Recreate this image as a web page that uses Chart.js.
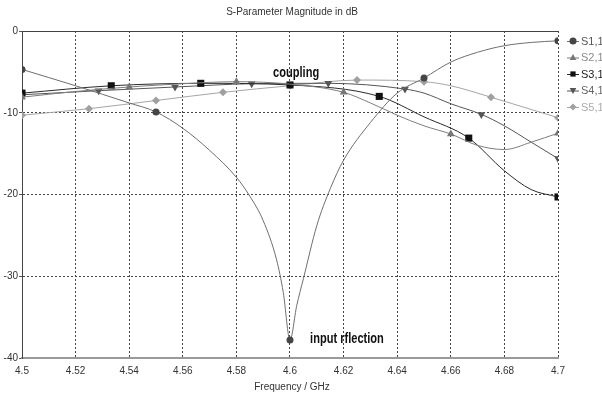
<!DOCTYPE html>
<html>
<head>
<meta charset="utf-8">
<script src="https://cdn.jsdelivr.net/npm/chart.js@4/dist/chart.umd.min.js"></script>
<style>
  html, body { margin: 0; padding: 0; background: #ffffff; }
  #wrap { width: 602px; height: 400px; }
</style>
</head>
<body>
<div id="wrap"><canvas id="c" width="602" height="400"></canvas></div>
<script>
// Frequency samples (GHz) and magnitudes (dB) for each S-parameter
const freqS11 = [4.5, 4.52, 4.54, 4.55, 4.56, 4.57, 4.58, 4.585, 4.59, 4.595, 4.5975, 4.6, 4.6025, 4.605, 4.61, 4.615, 4.62, 4.63, 4.64, 4.65, 4.66, 4.67, 4.68, 4.69, 4.7];
const magS11  = [-4.7, -6.7, -8.8, -9.9, -11.9, -14.6, -17.9, -20.2, -23.2, -28.0, -32.0, -37.8, -33.6, -30.3, -23.8, -19.3, -15.8, -11.2, -7.6, -5.75, -3.8, -2.6, -1.8, -1.4, -1.2];

const freqS21 = [4.5, 4.52, 4.54, 4.56, 4.58, 4.6, 4.62, 4.63, 4.64, 4.65, 4.66, 4.67, 4.68, 4.69, 4.7];
const magS21  = [-8.1, -7.4, -6.85, -6.45, -6.2, -6.5, -7.5, -8.8, -10.3, -11.6, -12.6, -14.0, -14.5, -13.6, -12.5];

const freqS31 = [4.5, 4.5333, 4.5667, 4.6, 4.6333, 4.65, 4.6667, 4.68, 4.69, 4.7];
const magS31  = [-7.6, -6.7, -6.4, -6.6, -8.0, -10.5, -13.1, -17.1, -19.4, -20.3];

const freqS41 = [4.5, 4.5286, 4.5571, 4.5857, 4.6143, 4.6429, 4.65, 4.66, 4.6714, 4.68, 4.69, 4.7];
const magS41  = [-7.8, -7.3, -6.85, -6.45, -6.4, -7.1, -7.6, -8.9, -10.2, -11.6, -13.6, -15.6];

const freqS51 = [4.5, 4.525, 4.55, 4.575, 4.6, 4.625, 4.65, 4.66, 4.675, 4.69, 4.7];
const magS51  = [-10.3, -9.5, -8.5, -7.5, -6.7, -6.0, -6.2, -6.7, -8.1, -9.6, -10.6];

// Axis ticks
const freqMin = 4.5, freqMax = 4.7, freqStep = 0.02;
const dbMin = -40, dbMax = 0, dbStep = 10;

// Text labels
const titleText = 'S-Parameter Magnitude in dB';
const xTitleText = 'Frequency / GHz';
const notes = [
  { text: 'coupling', freq: 4.5937, db: -5.1 },
  { text: 'input rflection', freq: 4.6075, db: -37.7 }
];

const series = [
  { label: 'S1,1', freq: freqS11, mag: magS11, line: '#6e6e6e', mark: '#454545', text: '#555555', style: 'circle', rot: 0, r: 3.5, markers: 5 },
  { label: 'S2,1', freq: freqS21, mag: magS21, line: '#7d7d7d', mark: '#777777', text: '#8a8a8a', style: 'triangle', rot: 0, r: 4.5, markers: 6 },
  { label: 'S3,1', freq: freqS31, mag: magS31, line: '#2a2a2a', mark: '#111111', text: '#222222', style: 'rect', rot: 0, r: 5, markers: 7 },
  { label: 'S4,1', freq: freqS41, mag: magS41, line: '#555555', mark: '#555555', text: '#666666', style: 'triangle', rot: 180, r: 4.5, markers: 8 },
  { label: 'S5,1', freq: freqS51, mag: magS51, line: '#a5a5a5', mark: '#a0a0a0', text: '#aaaaaa', style: 'rectRot', rot: 0, r: 4, markers: 9 }
];

function isMarker(s, f) {
  const step = (freqMax - freqMin) / (s.markers - 1);
  const k = Math.round((f - freqMin) / step);
  return Math.abs(freqMin + k * step - f) < 0.0006;
}

const datasets = series.map(s => ({
  label: s.label,
  data: s.freq.map((f, i) => ({ x: f, y: s.mag[i] })),
  borderColor: s.line,
  backgroundColor: s.mark,
  borderWidth: 1,
  cubicInterpolationMode: 'monotone',
  pointStyle: s.style,
  rotation: s.rot,
  pointRotation: s.rot,
  pointBorderColor: s.mark,
  pointBackgroundColor: s.mark,
  pointBorderWidth: 0,
  pointRadius: ctx => isMarker(s, ctx.raw ? ctx.raw.x : 0) ? s.r : 0,
  pointHoverRadius: 0
}));

const baseFont = "'Liberation Sans', Arial, sans-serif";
const noteFont = "bold 14px 'Liberation Sans', Arial, sans-serif";

function drawMarker(ctx, style, rot, r, x, y, color) {
  ctx.save();
  ctx.fillStyle = color;
  ctx.translate(x, y);
  ctx.rotate(rot * Math.PI / 180);
  ctx.beginPath();
  if (style === 'circle') {
    ctx.arc(0, 0, r, 0, Math.PI * 2);
  } else if (style === 'triangle') {
    ctx.moveTo(0, -r);
    ctx.lineTo(r * 0.95, r * 0.7);
    ctx.lineTo(-r * 0.95, r * 0.7);
    ctx.closePath();
  } else if (style === 'rect') {
    ctx.rect(-r * 0.75, -r * 0.75, r * 1.5, r * 1.5);
  } else {
    ctx.moveTo(0, -r); ctx.lineTo(r, 0); ctx.lineTo(0, r); ctx.lineTo(-r, 0); ctx.closePath();
  }
  ctx.fill();
  ctx.restore();
}

// Frame, title, axis caption, annotations and legend
const decorations = {
  id: 'decorations',
  beforeDatasetsDraw(chart) {
    const { ctx, chartArea: a } = chart;
    ctx.save();
    ctx.strokeStyle = '#444444';
    ctx.lineWidth = 1;
    ctx.beginPath();
    ctx.moveTo(a.left, a.top + 0.5);
    ctx.lineTo(a.right, a.top + 0.5);
    ctx.stroke();
    ctx.restore();
  },
  afterDraw(chart) {
    const { ctx, scales } = chart;
    ctx.save();
    ctx.textBaseline = 'middle';

    ctx.fillStyle = '#333333';
    ctx.font = '10px ' + baseFont;
    ctx.textAlign = 'center';
    ctx.fillText(titleText, 292, 12);
    ctx.fillText(xTitleText, 292, 387);

    // condensed bold annotation text
    ctx.font = noteFont;
    ctx.fillStyle = '#111111';
    ctx.textAlign = 'left';
    notes.forEach(n => {
      const px = scales.x.getPixelForValue(n.freq);
      const py = scales.y.getPixelForValue(n.db);
      ctx.save();
      ctx.translate(px, py);
      ctx.scale(0.79, 1.05);
      ctx.fillText(n.text, 0, 0);
      ctx.restore();
    });

    ctx.font = '11px ' + baseFont;
    series.forEach((s, i) => {
      const y = 41 + i * 16.5;
      ctx.strokeStyle = s.line;
      ctx.lineWidth = 1;
      ctx.beginPath();
      ctx.moveTo(567, y + 0.5);
      ctx.lineTo(579, y + 0.5);
      ctx.stroke();
      drawMarker(ctx, s.style, s.rot, 3.5, 573, y, s.mark);
      ctx.fillStyle = s.text;
      ctx.fillText(s.label, 581, y + 0.5);
    });
    ctx.restore();
  }
};

new Chart(document.getElementById('c'), {
  type: 'line',
  data: { datasets },
  options: {
    responsive: false,
    animation: false,
    parsing: false,
    layout: { padding: { left: 0, top: 31, right: 44, bottom: 0 } },
    plugins: { legend: { display: false }, title: { display: false }, tooltip: { enabled: false } },
    scales: {
      x: {
        type: 'linear',
        min: freqMin, max: freqMax,
        afterFit: s => { s.height = 42; },
        ticks: {
          stepSize: freqStep, color: '#333333', font: { family: baseFont, size: 10 }, padding: 3, maxRotation: 0, autoSkip: false,
          callback: v => String(Number(v.toFixed(2)))
        },
        grid: { color: '#444444', lineWidth: 1, tickLength: 4, tickColor: 'rgba(0,0,0,0)' },
        border: { display: true, color: '#9a9a9a', width: 2, dash: [2, 2] }
      },
      y: {
        type: 'linear',
        min: dbMin, max: dbMax,
        afterFit: s => { s.width = 22; },
        ticks: { stepSize: dbStep, color: '#333333', font: { family: baseFont, size: 10 }, padding: 1 },
        grid: { color: '#444444', lineWidth: 1, tickLength: 3, tickColor: '#555555' },
        border: { display: true, color: '#444444', width: 1, dash: [2, 2] }
      }
    }
  },
  plugins: [decorations]
});
</script>
</body>
</html>
